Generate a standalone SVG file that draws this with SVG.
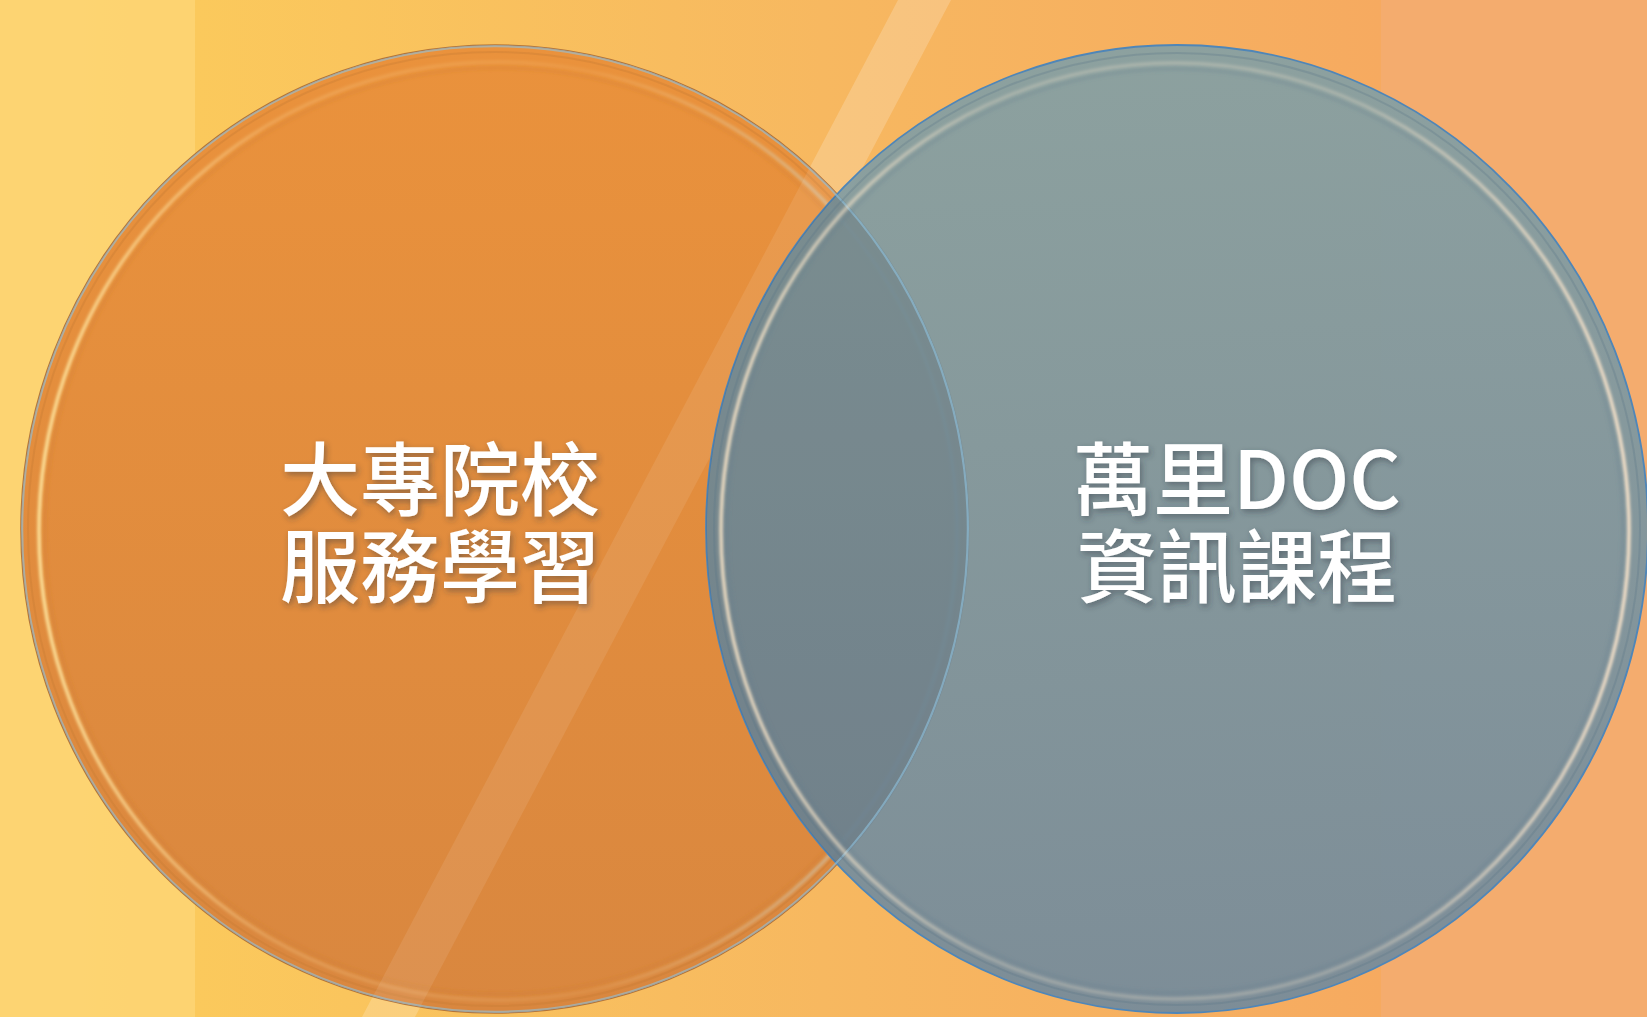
<svg xmlns="http://www.w3.org/2000/svg" width="1647" height="1017" viewBox="0 0 1647 1017">
  <defs>
    <linearGradient id="bgGrad" x1="0" y1="0" x2="1647" y2="0" gradientUnits="userSpaceOnUse">
      <stop offset="0" stop-color="#FCCF68"/>
      <stop offset="0.12" stop-color="#FBC95C"/>
      <stop offset="0.5" stop-color="#F7B860"/>
      <stop offset="0.84" stop-color="#F6AA60"/>
      <stop offset="1" stop-color="#F5A862"/>
    </linearGradient>
    <linearGradient id="orangeFill" x1="0" y1="0" x2="0" y2="1">
      <stop offset="0" stop-color="#EA923C"/>
      <stop offset="1" stop-color="#D9873F"/>
    </linearGradient>
    <linearGradient id="blueFill" x1="0" y1="0" x2="0" y2="1">
      <stop offset="0" stop-color="#86A0A3"/>
      <stop offset="1" stop-color="#758B9B"/>
    </linearGradient>
    <linearGradient id="orangeRing" x1="0" y1="0" x2="1" y2="0">
      <stop offset="0" stop-color="#FFE8A0" stop-opacity="0.95"/>
      <stop offset="0.25" stop-color="#FFE0A0" stop-opacity="0.25"/>
      <stop offset="0.6" stop-color="#FFE0A0" stop-opacity="0.1"/>
      <stop offset="1" stop-color="#A8D8F0" stop-opacity="0.7"/>
    </linearGradient>
    <linearGradient id="blueRing" x1="0" y1="0" x2="1" y2="0">
      <stop offset="0" stop-color="#FBE6C8" stop-opacity="0.9"/>
      <stop offset="0.3" stop-color="#F4E4CC" stop-opacity="0.3"/>
      <stop offset="0.7" stop-color="#F4E4CC" stop-opacity="0.3"/>
      <stop offset="1" stop-color="#FDE6CC" stop-opacity="0.95"/>
    </linearGradient>
    <clipPath id="clipLeft">
      <ellipse cx="495" cy="529" rx="474" ry="484"/>
    </clipPath>
    <filter id="txtShadow" x="-20%" y="-30%" width="140%" height="160%">
      <feDropShadow dx="2" dy="3" stdDeviation="3" flood-color="#2A3440" flood-opacity="0.45"/>
    </filter>
    <filter id="soft" x="-5%" y="-5%" width="110%" height="110%">
      <feGaussianBlur stdDeviation="1.6"/>
    </filter>
  </defs>
  <style>
    .label { font-family: "Noto Sans CJK TC", "Noto Sans CJK SC", "Noto Sans", sans-serif; font-size: 80px; font-weight: 500; fill: #FFFFFF; text-anchor: middle; filter: url(#txtShadow); }
    .edgeO { fill: url(#orangeFill); stroke: #A8652E; stroke-width: 1.6; stroke-opacity: 0.85; }
    .edgeB { fill: url(#blueFill); stroke: #4F86B8; stroke-width: 1.8; }
  </style>

  <!-- background -->
  <rect x="0" y="0" width="1647" height="1017" fill="url(#bgGrad)"/>
  <rect x="0" y="0" width="195" height="1017" fill="#FDD574" opacity="0.85"/>
  <rect x="1381" y="0" width="266" height="1017" fill="#F4AC70" opacity="0.9"/>

  <!-- light diagonal streak on background -->
  <polygon points="898,0 951,0 415,1017 362,1017" fill="#FFFFFF" opacity="0.2"/>

  <g id="node-left">
    <ellipse class="edgeO" cx="495" cy="529" rx="474" ry="484"/>
    <ellipse cx="495" cy="529" rx="467" ry="477" fill="none" stroke="#C77A35" stroke-width="2" stroke-opacity="0.35"/>
    <ellipse cx="498" cy="531" rx="459" ry="469" fill="none" stroke="url(#orangeRing)" stroke-width="3.5" filter="url(#soft)"/>
    <ellipse cx="498" cy="531" rx="453" ry="463" fill="none" stroke="#C9772F" stroke-width="4" stroke-opacity="0.18" filter="url(#soft)"/>
    <polygon points="898,0 951,0 415,1017 362,1017" fill="#FFFFFF" opacity="0.09" clip-path="url(#clipLeft)"/>
  </g>

  <g id="node-right">
    <ellipse class="edgeB" cx="1177" cy="529" rx="471" ry="484" fill-opacity="0.94"/>
    <g clip-path="url(#clipLeft)">
      <ellipse cx="1177" cy="529" rx="471" ry="484" fill="#36465A" opacity="0.18"/>
      <ellipse cx="495" cy="529" rx="473" ry="483" fill="none" stroke="#8FC3E0" stroke-width="2.5" stroke-opacity="0.6"/>
    </g>
    <ellipse cx="1177" cy="529" rx="463" ry="476" fill="none" stroke="#5E7788" stroke-width="2" stroke-opacity="0.3"/>
    <ellipse cx="1175" cy="531" rx="454" ry="468" fill="none" stroke="url(#blueRing)" stroke-width="3.5" filter="url(#soft)"/>
    <ellipse cx="1175" cy="531" rx="448" ry="462" fill="none" stroke="#5F7A8E" stroke-width="4" stroke-opacity="0.2" filter="url(#soft)"/>
  </g>

  <g id="labels">
    <text id="label-left" class="label" x="440" y="509">大專院校<tspan x="440" dy="87">服務學習</tspan></text>
    <text id="label-right" class="label" x="1237" y="509">萬里DOC<tspan x="1237" dy="87">資訊課程</tspan></text>
  </g>

  <g id="connectors"/>
</svg>
